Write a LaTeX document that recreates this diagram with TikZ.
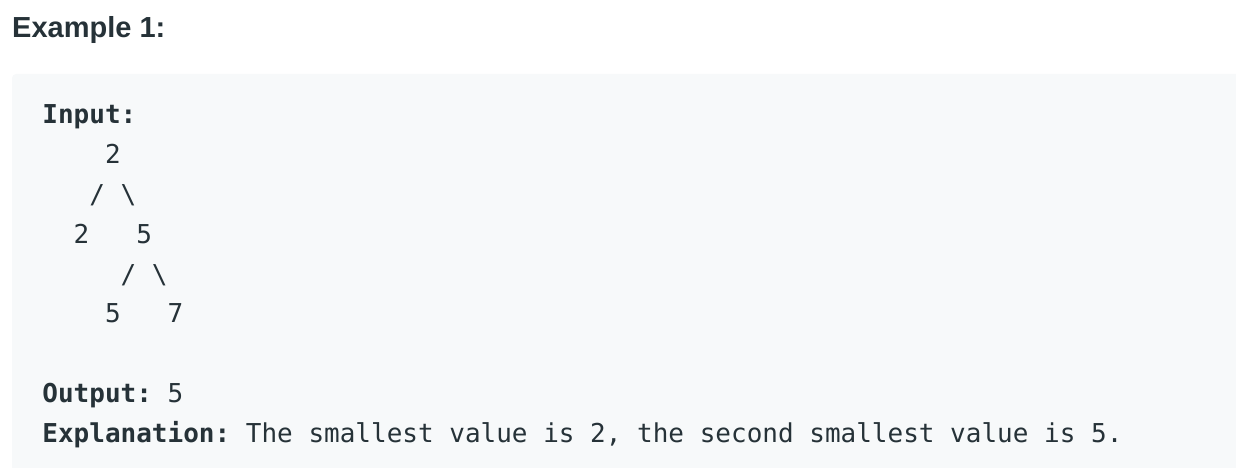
\documentclass[tikz,border=0pt]{standalone}
\usepackage{fontspec}
\setmainfont{Liberation Sans}
\setmonofont{DejaVu Sans Mono}
\definecolor{txt}{HTML}{263238}
\definecolor{codebg}{HTML}{F7F9FA}
\tikzset{
  mono/.style={inner sep=0pt, anchor=base west, text=txt, font=\fontsize{26}{26}\selectfont\ttfamily},
  monob/.style={mono, font=\fontsize{26}{26}\selectfont\ttfamily\bfseries},
  heading/.style={inner sep=0pt, anchor=base west, text=txt, font=\fontsize{29}{30}\selectfont\bfseries},
  codebox/.style={fill=codebg, rounded corners=4pt}
}
\begin{document}
\begin{tikzpicture}[x=1pt,y=-1pt]
\useasboundingbox (0,0) rectangle (1236,468);
\clip (0,0) rectangle (1236,468);
\fill[codebox] (12,74) rectangle (1250,480);
\node[heading] (title) at (12,37.5) {Example 1:};
\def\xo{42.2}
\def\cw{15.65}
\def\yo{2}
\node[monob] (input) at (\xo,122+\yo) {Input:};
% tree
\node[mono] (r) at ({\xo+4*\cw},161.75+\yo) {2};
\node[mono] (e1) at ({\xo+3*\cw},201.5+\yo) {/};
\node[mono] (e2) at ({\xo+5*\cw},201.5+\yo) {\textbackslash};
\node[mono] (a) at ({\xo+2*\cw},241.25+\yo) {2};
\node[mono] (b) at ({\xo+6*\cw},241.25+\yo) {5};
\node[mono] (e3) at ({\xo+5*\cw},281+\yo) {/};
\node[mono] (e4) at ({\xo+7*\cw},281+\yo) {\textbackslash};
\node[mono] (c) at ({\xo+4*\cw},320.75+\yo) {5};
\node[mono] (d) at ({\xo+8*\cw},320.75+\yo) {7};
\node[mono] (output) at (\xo,400.25+\yo) {\bfseries Output:\mdseries{} 5};
\node[mono] (expl) at (\xo,440+\yo) {\bfseries Explanation:\mdseries{} The smallest value is 2, the second smallest value is 5.};
\end{tikzpicture}
\end{document}
